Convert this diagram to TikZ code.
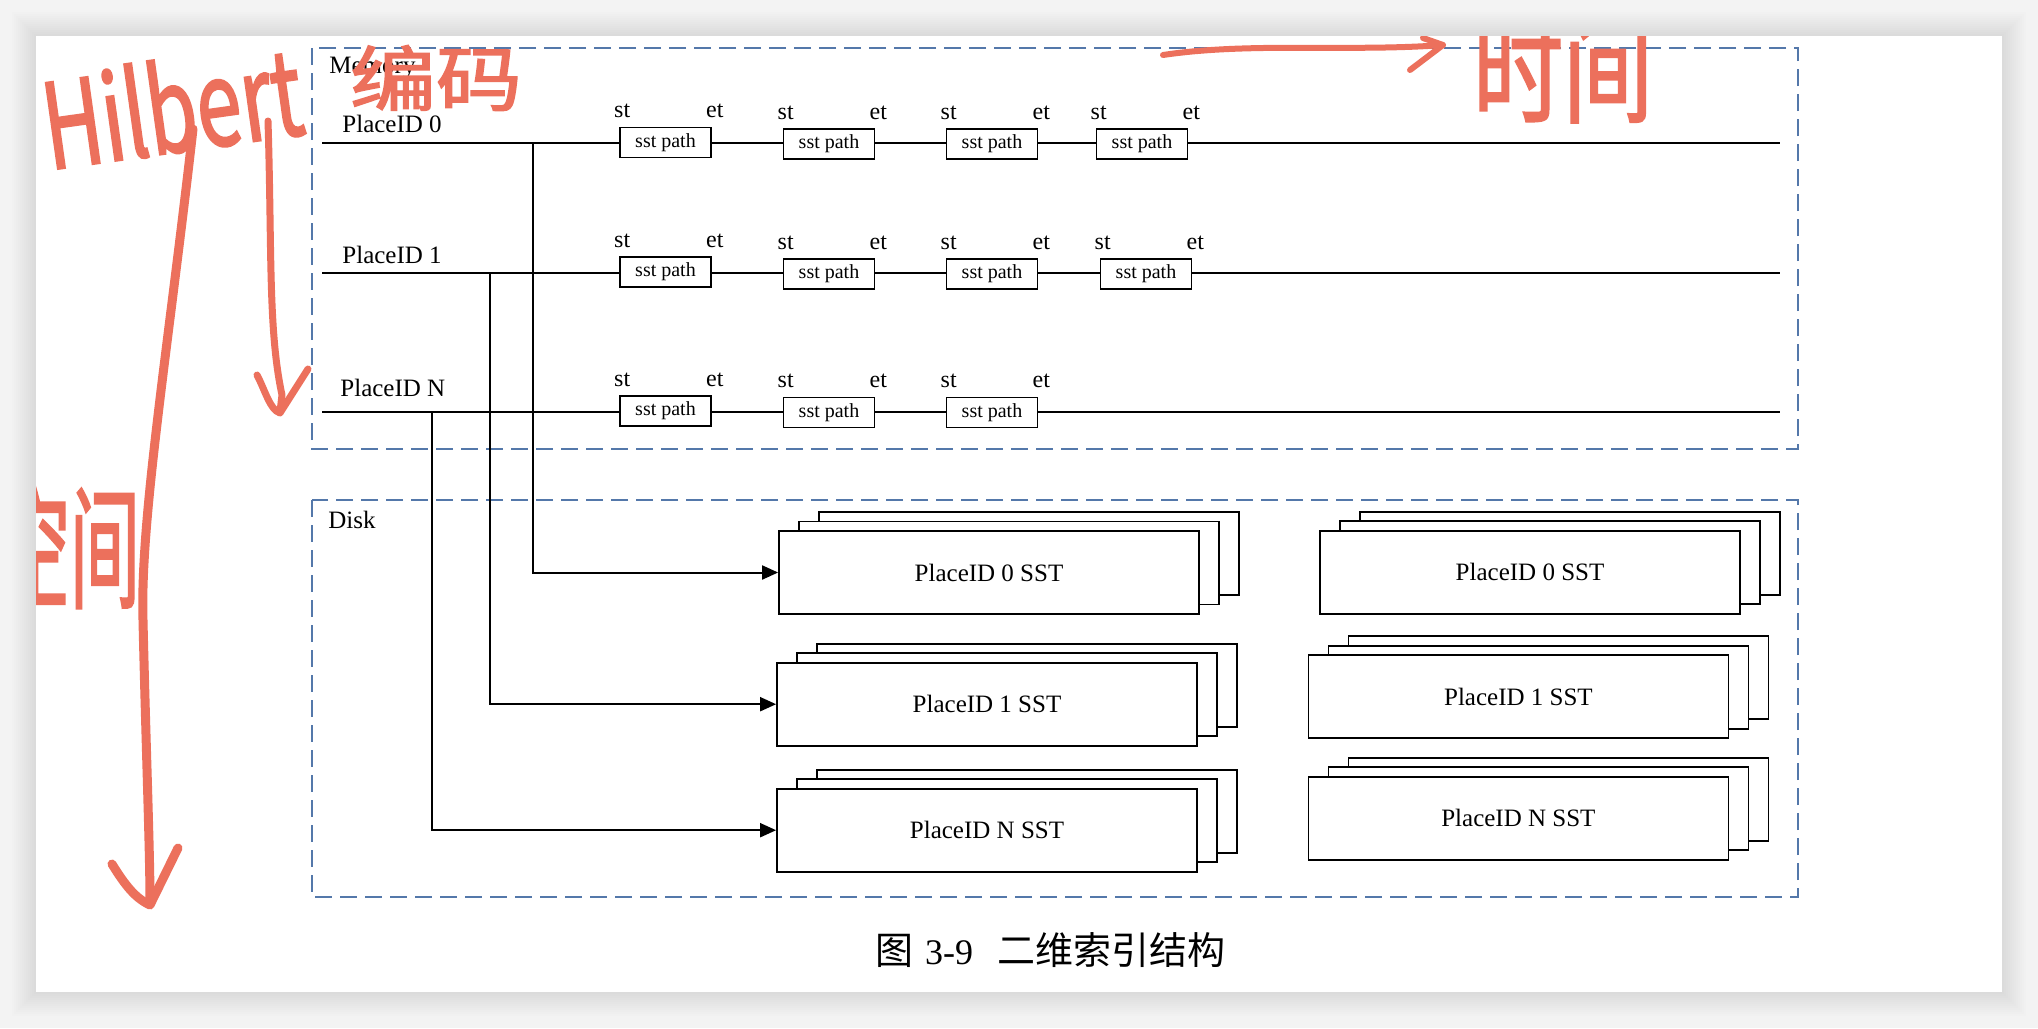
\documentclass[tikz,border=0pt]{standalone}
\usepackage{fontspec}
\usepackage{graphicx}
\setmainfont{Liberation Serif}
\newfontfamily\cjk{Noto Sans CJK SC}
\newfontfamily\hand[FakeBold=2]{Noto Sans CJK SC}
\usetikzlibrary{arrows.meta,calc}
\definecolor{memblue}{RGB}{84,120,170}
\definecolor{anno}{RGB}{236,112,92}
\definecolor{bggray}{RGB}{243,243,243}
\tikzset{
  tl/.style={line width=1.1pt},
  sst/.style={draw, fill=white, line width=0.8pt, minimum width=45.5pt, minimum height=15pt, inner sep=0pt, font=\fontsize{10}{12}\selectfont},
  tlab/.style={anchor=base, inner sep=0pt, font=\fontsize{12}{14}\selectfont},
  lbl/.style={anchor=base west, inner sep=0pt, font=\fontsize{12.5}{15}\selectfont},
  frame/.style={draw=memblue, line width=0.8pt, dash pattern=on 8.5pt off 4pt},
  sheet/.style={draw, fill=white, line width=0.9pt, minimum width=210pt, minimum height=41.5pt, inner sep=0pt, font=\fontsize{12.5}{15}\selectfont},
  conn/.style={line width=1pt, -{Triangle[length=8pt,width=7pt]}},
  pen/.style={draw=anno, line cap=round, line join=round},
  handtxt/.style={text=anno, inner sep=0pt},
}
\newcommand\sststack[4]{%
  \node[sheet] (#1b) at (#2+40,#3-19) {};
  \node[sheet] (#1m) at (#2+20,#3-9.5) {};
  \node[sheet] (#1) at (#2,#3) {#4};
}
\begin{document}
\begin{tikzpicture}[x=0.5pt,y=-0.5pt]
\useasboundingbox (0,0) rectangle (2038,1028);
% background and page
\fill[bggray] (0,0) rectangle (2038,1028);
\foreach \d in {1,...,12}
  \fill[black,opacity=0.009] (36-2*\d,36-2*\d) rectangle (2002+2*\d,992+2*\d);
\fill[white] (36,36) rectangle (2002,992);

% frames
\draw[frame] (312,48) rectangle (1798,449);
\draw[frame] (312,500) rectangle (1798,897);
\node[lbl] (mem) at (329,73) {Memory};
\node[lbl] (disk) at (328,528) {Disk};

% row labels
\node[lbl] (p0) at (342,132) {PlaceID 0};
\node[lbl] (p1) at (342,263) {PlaceID 1};
\node[lbl] (pN) at (340,396) {PlaceID N};

% timelines
\coordinate (r0s) at (322,143); \coordinate (r0e) at (1780,143);
\coordinate (r1s) at (322,273); \coordinate (r1e) at (1780,273);
\coordinate (rNs) at (322,412); \coordinate (rNe) at (1780,412);
\draw[tl] (r0s) -- (r0e);
\draw[tl] (r1s) -- (r1e);
\draw[tl] (rNs) -- (rNe);

% junctions
\coordinate (j0) at (533,143);
\coordinate (j1) at (490,273);
\coordinate (jN) at (432,412);

% row 0 boxes
\node[sst] (a1) at (665.5,142.5) {sst path};
\node[sst] (a2) at (829,144) {sst path};
\node[sst] (a3) at (992,144) {sst path};
\node[sst] (a4) at (1142,144) {sst path};
% row 1 boxes
\node[sst] (b1) at (665.5,272) {sst path};
\node[sst] (b2) at (829,274) {sst path};
\node[sst] (b3) at (992,274) {sst path};
\node[sst] (b4) at (1146,274) {sst path};
% row N boxes
\node[sst] (c1) at (665.5,411) {sst path};
\node[sst] (c2) at (829,412.5) {sst path};
\node[sst] (c3) at (992,412.5) {sst path};

\foreach \b in {a1,a2,a3,a4,b1,b2,b3,b4,c1,c2,c3}{
  \node[tlab] (\b st) at ($(\b.north west)+(3,-9)$) {st};
  \node[tlab] (\b et) at ($(\b.north east)+(3,-9)$) {et};
}

% disk stacks
\sststack{L0}{989}{572.5}{PlaceID 0 SST}
\sststack{L1}{987}{704.2}{PlaceID 1 SST}
\sststack{LN}{987}{830.2}{PlaceID N SST}
\sststack{R0}{1530}{572.2}{PlaceID 0 SST}
\sststack{R1}{1518.4}{696.8}{PlaceID 1 SST}
\sststack{RN}{1518.4}{818.2}{PlaceID N SST}

\draw[conn] (j0) |- (L0.west);
\draw[conn] (j1) |- (L1.west);
\draw[conn] (jN) |- (LN.west);

% caption
\node[inner sep=0pt] (cap) at (1050,950) {{\fontsize{19}{22}\selectfont\cjk 图}\hspace{6pt}{\fontsize{18}{22}\selectfont 3-9}\hspace{12pt}{\fontsize{19}{22}\selectfont\cjk 二维索引结构}};

% handwritten annotations
\begin{scope}
\clip (36,36) rectangle (2002,992);
\node[handtxt, rotate=8] (hil) at (172,106) {\resizebox{130pt}{47pt}{\hand Hilbert}};
\node[handtxt] (bm) at (436,78) {\resizebox{86pt}{30pt}{\hand 编码}};
\node[handtxt] (sj) at (1563,70) {\resizebox{90pt}{48pt}{\hand 时间}};
\node[handtxt] (kj) at (70,547) {\resizebox{70pt}{56pt}{\hand 空间}};
\draw[pen, line width=4.5pt] (193,129) .. controls (168,350) and (140,520) .. (143,620) .. controls (146,750) and (150,850) .. (150,903);
\draw[pen, line width=4.5pt] (112,864) .. controls (125,885) and (135,898) .. (150,905) -- (178,848);
\draw[pen, line width=3.5pt] (268,121) .. controls (272,250) and (268,330) .. (282,395) -- (280,412);
\draw[pen, line width=3.5pt] (257,375) .. controls (265,390) and (270,410) .. (280,413) -- (308,369);
\draw[pen, line width=3pt] (1163,55) .. controls (1250,42) and (1350,52) .. (1443,45);
\draw[pen, line width=3pt] (1423,38) -- (1443,45) -- (1410,70);
\end{scope}
\end{tikzpicture}
\end{document}
